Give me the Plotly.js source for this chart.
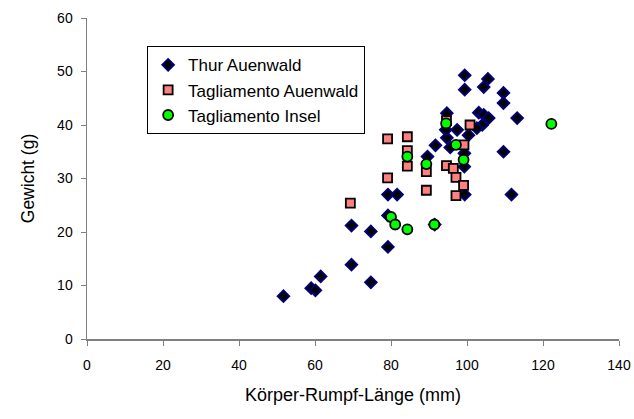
<!DOCTYPE html>
<html>
<head>
<meta charset="utf-8">
<script src="https://cdn.plot.ly/plotly-3.0.1.min.js"></script>
<style>html,body{margin:0;padding:0;background:#fff;}#chart{width:634px;height:419px;}</style>
</head>
<body>
<div id="chart"></div>
<script>
const seriesNames = ["Thur Auenwald", "Tagliamento Auenwald", "Tagliamento Insel"];

const thurX = [51.7, 59, 60.1, 61.5, 69.6, 74.7, 69.6, 74.7, 79.2, 79.2, 79.2, 81.6, 91.5, 99.4, 111.7,
  99.4, 105.5, 99.4, 104.4, 109.6, 109.6, 113.2, 94.7, 103.1, 104.4, 105.7, 97.4, 104, 94.7, 100.4,
  91.7, 95.6, 109.6, 89.6, 99.3, 99.3, 94.4, 102.6];
const thurY = [8.0, 9.5, 9.1, 11.7, 13.9, 10.6, 21.2, 20.1, 17.2, 23.1, 27, 27, 21.4, 27, 27,
  49.3, 48.6, 46.6, 47.1, 46, 44.1, 41.3, 42.2, 42.3, 41.9, 41.3, 39.1, 40.0, 37.6, 38.1,
  36.2, 35.8, 35, 34.1, 32.2, 34.7, 39.1, 39.4];

const tagAX = [69.3, 79.1, 79.1, 84.3, 84.3, 84.3, 89.3, 89.3, 94.6, 96.4, 97.1, 99.1, 97.1, 99.2, 100.8, 94.6];
const tagAY = [25.4, 37.4, 30.1, 37.8, 35.2, 32.3, 31.3, 27.8, 32.4, 31.9, 30.2, 28.7, 26.8, 36.3, 40.0, 40.8];

const tagIX = [80.0, 81.1, 84.3, 91.4, 84.3, 89.3, 94.5, 97.1, 99.1, 122.2];
const tagIY = [22.8, 21.4, 20.5, 21.4, 34.1, 32.7, 40.3, 36.3, 33.5, 40.2];

const xTicks = [0, 20, 40, 60, 80, 100, 120, 140];
const yTicks = [0, 10, 20, 30, 40, 50, 60];

const traces = [
  {x: thurX, y: thurY, name: seriesNames[0], type: "scatter", mode: "markers",
   marker: {symbol: "diamond", size: 9, color: "#000000", line: {color: "#000080", width: 1.8}}},
  {x: tagAX, y: tagAY, name: seriesNames[1], type: "scatter", mode: "markers",
   marker: {symbol: "square", size: 9, color: "#FF8080", line: {color: "#000000", width: 1.8}}},
  {x: tagIX, y: tagIY, name: seriesNames[2], type: "scatter", mode: "markers",
   marker: {symbol: "circle", size: 10, color: "#00FF00", line: {color: "#000000", width: 1.8}}}
];

const layout = {
  width: 634, height: 419,
  margin: {l: 87, r: 15, t: 18, b: 80},
  paper_bgcolor: "#ffffff", plot_bgcolor: "#ffffff",
  font: {family: "Liberation Sans, Arial, sans-serif", size: 14, color: "#000000"},
  showlegend: true,
  legend: {x: 0.113, y: 0.912, xanchor: "left", yanchor: "top",
    bordercolor: "#000000", borderwidth: 1, bgcolor: "#ffffff",
    font: {family: "Liberation Sans, Arial, sans-serif", size: 17, color: "#000000"},
    tracegroupgap: 0, itemwidth: 30},
  xaxis: {range: [0, 140], tickvals: xTicks, ticktext: xTicks.map(String), showgrid: false, zeroline: false,
    showline: true, linecolor: "#808080", linewidth: 1.5, ticks: "outside", ticklen: 5, tickcolor: "#808080",
    ticklabelstandoff: 8,
    tickfont: {size: 14}, title: {text: "Körper-Rumpf-Länge (mm)", font: {size: 18}, standoff: 16}},
  yaxis: {range: [0, 60], tickvals: yTicks, ticktext: yTicks.map(String), showgrid: false, zeroline: false,
    showline: true, linecolor: "#808080", linewidth: 1.5, ticks: "outside", ticklen: 5, tickcolor: "#808080",
    ticklabelstandoff: 5,
    tickfont: {size: 14}, title: {text: "Gewicht (g)", font: {size: 17.5}, standoff: 18}}
};

Plotly.newPlot("chart", traces, layout, {displayModeBar: false, staticPlot: true});
</script>
</body>
</html>
